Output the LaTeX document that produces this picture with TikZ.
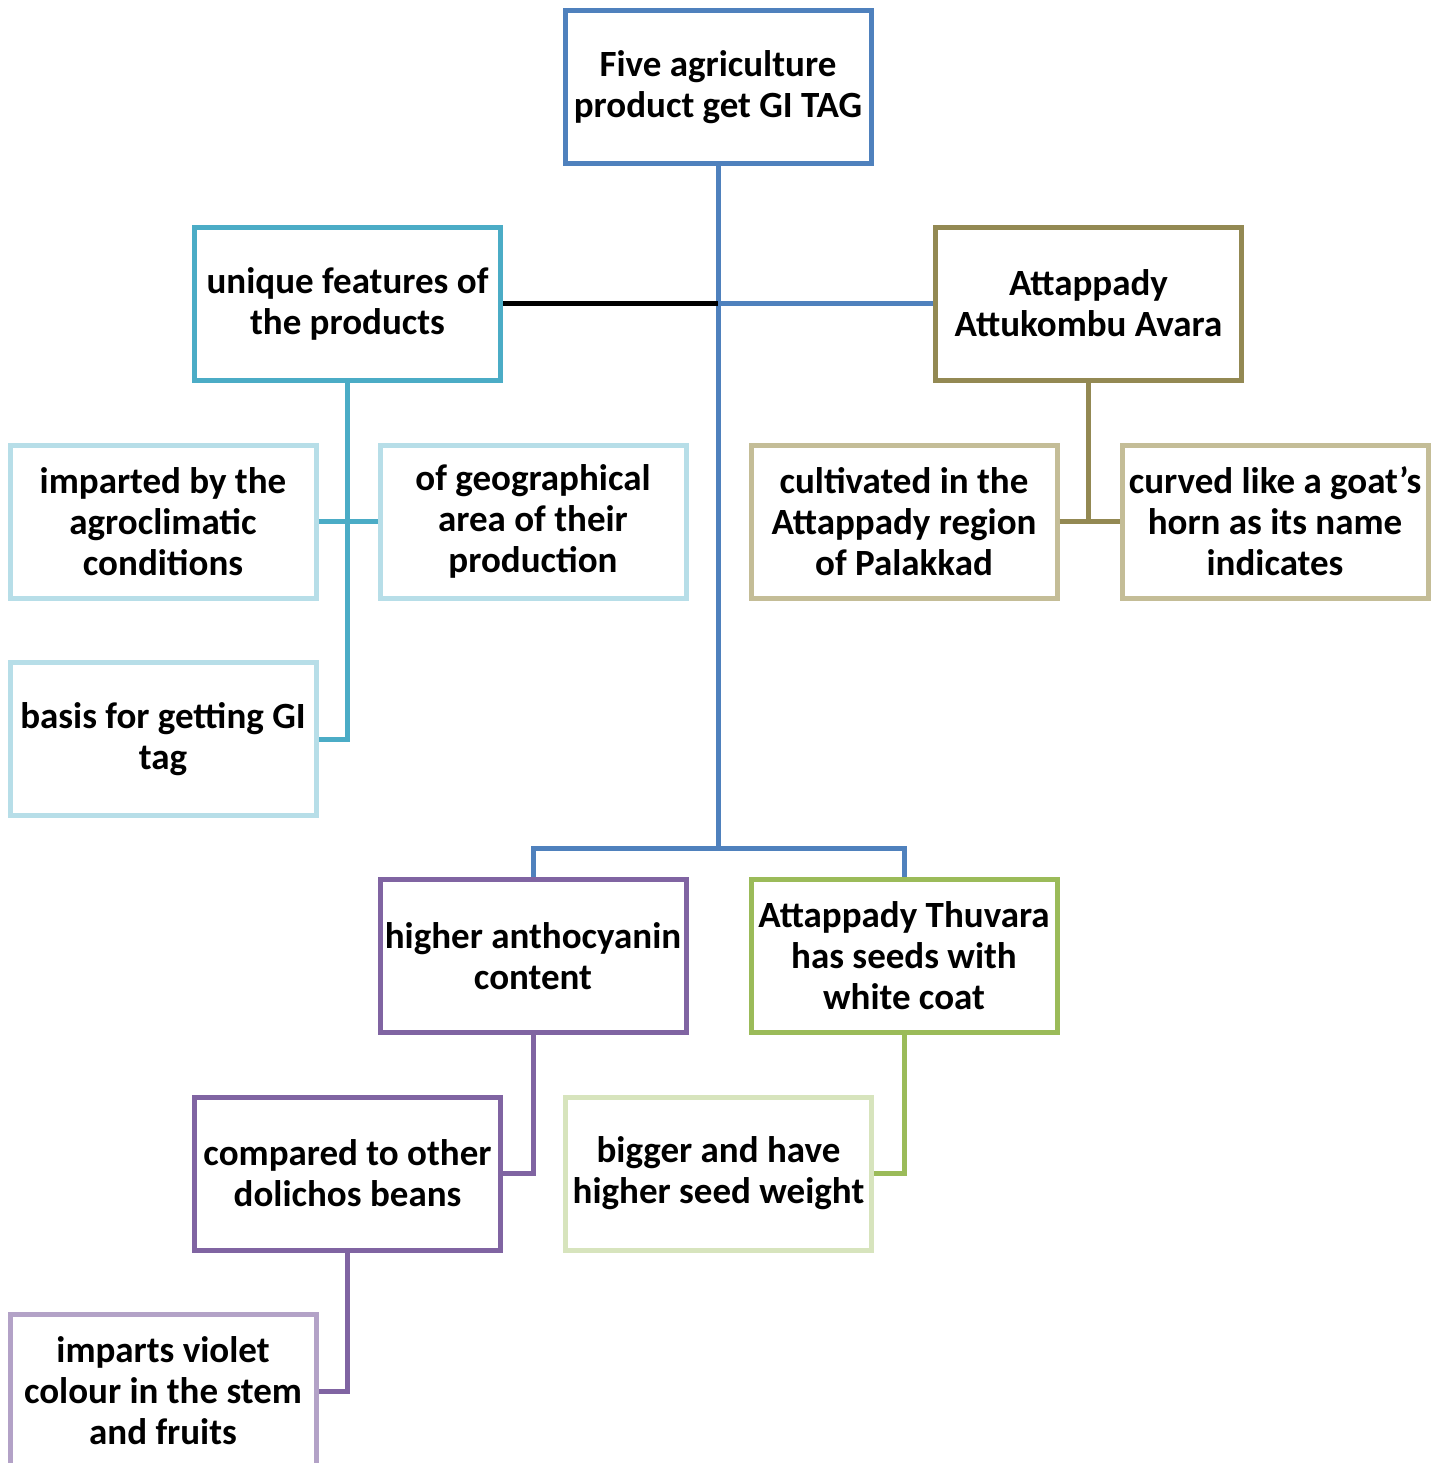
\documentclass[tikz,border=0pt]{standalone}
\usepackage{fontspec}
\setmainfont{Carlito}
\usepackage{tikz}

\definecolor{rootblue}{HTML}{4F81BD}
\definecolor{tealdark}{HTML}{4BACC6}
\definecolor{teallight}{HTML}{B7DEE8}
\definecolor{olivedark}{HTML}{938953}
\definecolor{olivelight}{HTML}{C4BD97}
\definecolor{purpledark}{HTML}{8064A2}
\definecolor{purplelight}{HTML}{B3A2C7}
\definecolor{greendark}{HTML}{9BBB59}
\definecolor{greenlight}{HTML}{D7E4BD}

\begin{document}
\begin{tikzpicture}[x=0.5pt,y=-0.5pt,
    box/.style={draw=#1, fill=white, line width=2.5pt, minimum width=153pt, minimum height=76.5pt,
      inner sep=0pt, align=center, font=\fontsize{18.5}{20.5}\selectfont\bfseries},
    link/.style={draw=#1, line width=2.5pt}]
      \useasboundingbox (0,0) rectangle (1438,1463);

      \node[box=rootblue] (root) at (718,87) {Five agriculture\\product get GI TAG};
      \node[box=tealdark] (feat) at (347.5,303.5) {unique features of\\the products};
      \node[box=olivedark] (avara) at (1088.5,303.5) {Attappady\\Attukombu Avara};
      \node[box=teallight] (agro) at (163,521.5) {imparted by the\\agroclimatic\\conditions};
      \node[box=teallight] (geo) at (533,521.5) {of geographical\\area of their\\production};
      \node[box=olivelight] (cult) at (904,521.5) {cultivated in the\\Attappady region\\of Palakkad};
      \node[box=olivelight] (horn) at (1275,521.5) {curved like a goat’s\\horn as its name\\indicates};
      \node[box=teallight] (basis) at (163,739) {basis for getting GI\\tag};
      \node[box=purpledark] (antho) at (533,956) {higher anthocyanin\\content};
      \node[box=greendark] (thuvara) at (904,956) {Attappady Thuvara\\has seeds with\\white coat};
      \node[box=purpledark] (compared) at (347.5,1173.5) {compared to other\\dolichos beans};
      \node[box=greenlight] (bigger) at (718.5,1173.5) {bigger and have\\higher seed weight};
      \node[box=purplelight] (violet) at (163,1391) {imparts violet\\colour in the stem\\and fruits};

      \coordinate (hub) at (718,303.5);
      \coordinate (fork) at (718,848);
      \draw[link=rootblue] (root.south) -- (fork);
      \draw[link=black] (feat.east) -- (hub);
      \draw[link=rootblue] (avara.west) -- (hub);
      \draw[link=rootblue] (antho.north) |- (fork) -| (thuvara.north);

      \draw[link=tealdark] (feat.south) |- (basis.east);
      \draw[link=tealdark] (agro.east) -- (geo.west);
      \draw[link=olivedark] (avara.south) -- (avara.south |- cult.east);
      \draw[link=olivedark] (cult.east) -- (horn.west);
      \draw[link=purpledark] (antho.south) |- (compared.east);
      \draw[link=purpledark] (compared.south) |- (violet.east);
      \draw[link=greendark] (thuvara.south) |- (bigger.east);
\end{tikzpicture}
\end{document}
